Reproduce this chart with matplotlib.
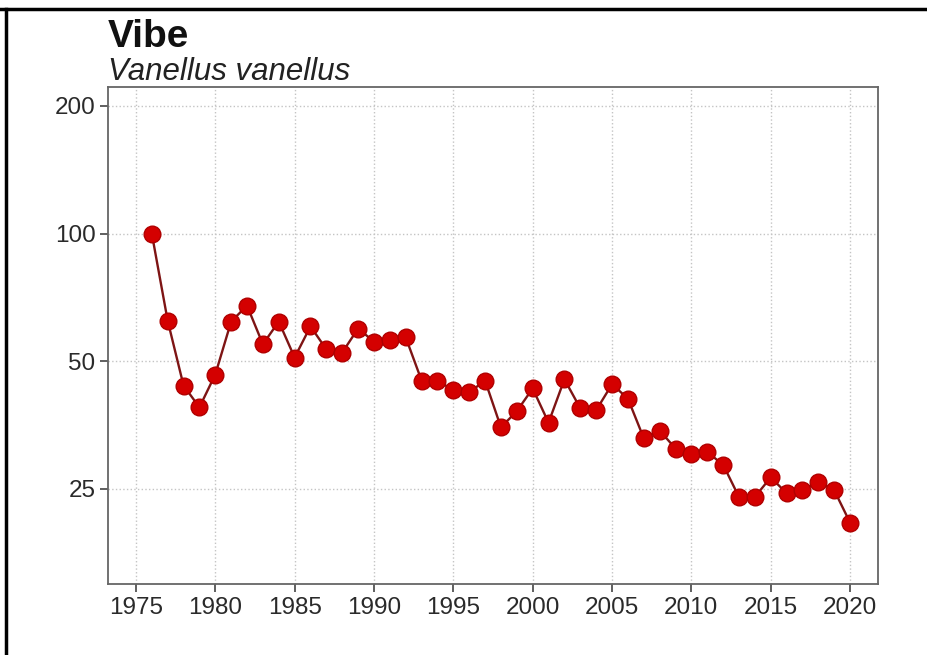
import numpy as np
import matplotlib.pyplot as plt
from matplotlib.lines import Line2D
from matplotlib.ticker import FixedLocator, FixedFormatter, NullLocator

plt.rcParams['font.family'] = ['Liberation Sans', 'DejaVu Sans']

# Index values (1976 = 100)
years = np.arange(1976, 2021)
index = [100, 62.3, 43.8, 38.9, 46.5, 62.0, 67.6, 54.8, 62.0, 51.0,
         60.4, 53.3, 52.4, 59.7, 55.6, 56.2, 56.9, 45.0, 45.0, 42.7,
         42.2, 45.0, 34.9, 38.1, 43.1, 35.8, 45.3, 38.7, 38.3, 44.1,
         40.8, 32.9, 34.3, 31.1, 30.2, 30.5, 28.5, 23.9, 23.9, 26.6,
         24.4, 24.8, 26.0, 24.8, 20.8]

x_ticks = [1975, 1980, 1985, 1990, 1995, 2000, 2005, 2010, 2015, 2020]
y_ticks = [25, 50, 100, 200]
y_labels = ['25', '50', '100', '200']

title = 'Vibe'
subtitle = 'Vanellus vanellus'

fig = plt.figure(figsize=(9.28, 6.55), dpi=100)
ax = fig.add_axes([108 / 928, 1 - 584 / 655, 770 / 928, 497 / 655])

# Line and markers
ax.plot(years, index, color='#7e1414', lw=1.7, zorder=3,
        marker='o', markersize=12, markerfacecolor='#d40000',
        markeredgecolor='#b00000', markeredgewidth=1.0)

# Log axis with base 2 ticks
ax.set_yscale('log', base=2)
ax.set_ylim(14.9, 221.7)
ax.set_xlim(1973.24, 2021.76)
ax.yaxis.set_major_locator(FixedLocator(y_ticks))
ax.yaxis.set_major_formatter(FixedFormatter(y_labels))
ax.yaxis.set_minor_locator(NullLocator())
ax.xaxis.set_major_locator(FixedLocator(x_ticks))

# Grid
ax.grid(True, which='major', linestyle=':', color='#c4c4c4', lw=1.0, zorder=0)

# Spines and ticks
for s in ax.spines.values():
    s.set_color('#666666')
    s.set_linewidth(1.3)
ax.tick_params(axis='both', which='major', direction='out', length=6,
               width=1.2, color='#444444', labelsize=17.5,
               labelcolor='#2a2a2a', pad=3)

# Title and subtitle
fig.text(108 / 928, 1 - 47 / 655, title, fontsize=28, fontweight='bold',
         color='#111111', ha='left', va='baseline')
fig.text(108 / 928, 1 - 80 / 655, subtitle, fontsize=22.5, style='italic',
         color='#222222', ha='left', va='baseline')

# Outer frame lines (top and left)
fig.lines.append(Line2D([0, 1], [1 - 9 / 655, 1 - 9 / 655],
                        transform=fig.transFigure, color='black', lw=2.5))
fig.lines.append(Line2D([6 / 928, 6 / 928], [0, 1 - 9 / 655],
                        transform=fig.transFigure, color='black', lw=2.5))

fig.savefig('out.png', dpi=100, facecolor='white')
